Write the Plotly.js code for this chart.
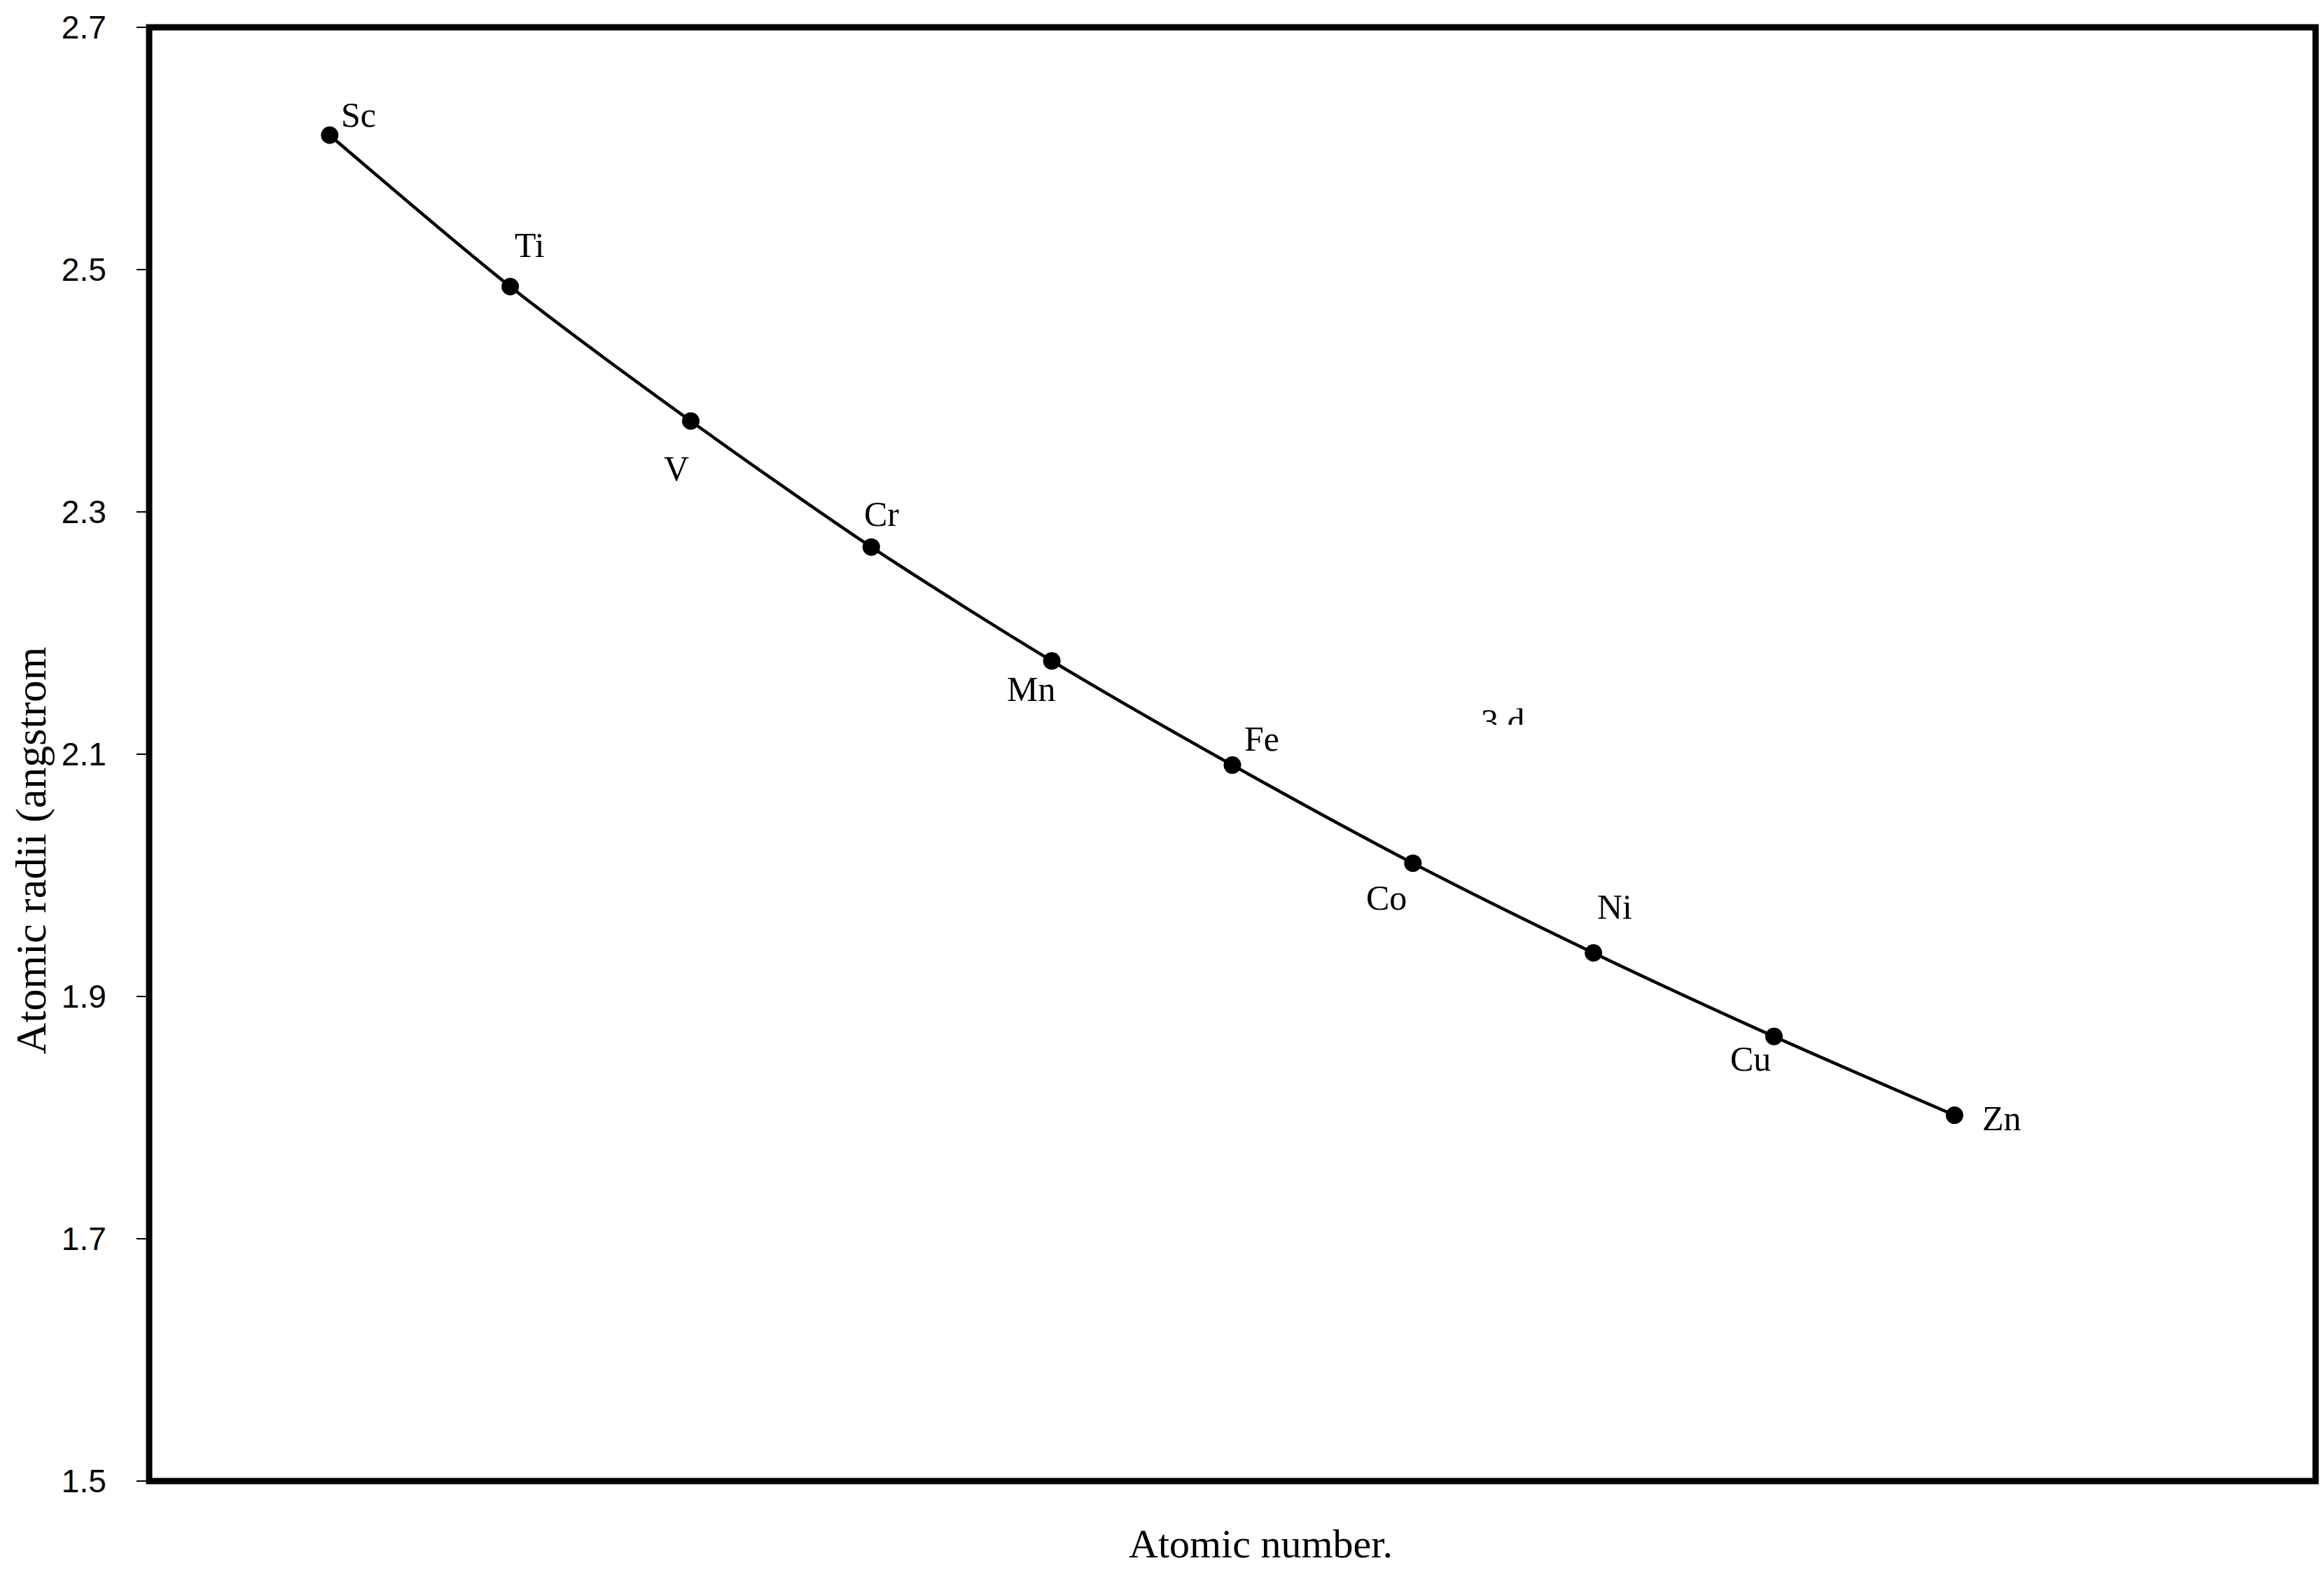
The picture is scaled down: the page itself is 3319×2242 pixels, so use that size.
<!DOCTYPE html>
<html lang="en">
<head>
    <meta charset="UTF-8">
    <title>Atomic radii of 3d elements</title>
    <script src="https://cdn.plot.ly/plotly-3.0.1.min.js"></script>
    <style>
        html, body { margin: 0; padding: 0; background: #ffffff; }
        #plot { width: 3319px; height: 2242px; }
    </style>
</head>
<body>
    <div id="plot"></div>
    <script>
        // 3d series
        const elements = ['Sc', 'Ti', 'V', 'Cr', 'Mn', 'Fe', 'Co', 'Ni', 'Cu', 'Zn'];
        const atomicNumber = [21, 22, 23, 24, 25, 26, 27, 28, 29, 30];
        const radii = [2.611, 2.486, 2.375, 2.271, 2.177, 2.091, 2.010, 1.936, 1.867, 1.802];
        const yTicks = [1.5, 1.7, 1.9, 2.1, 2.3, 2.5, 2.7];

        // where each label sits relative to its point (pixels)
        const labelDx = [41, 28, -21, 15, -30, 42, -38, 30, -34, 68];
        const labelDy = [29, 59, -68, 47, -40, 38, -49, 66, -32, -4];

        const serif = 'Liberation Serif, Times New Roman, serif';
        const sans = 'Liberation Sans, Arial, sans-serif';

        const trace = {
            x: atomicNumber,
            y: radii,
            type: 'scatter',
            mode: 'lines+markers',
            line: { color: '#000000', width: 4.5, shape: 'spline', smoothing: 0.8 },
            marker: { color: '#000000', size: 25 },
            hoverinfo: 'skip'
        };

        const labels = elements.map((el, i) => ({
            x: atomicNumber[i],
            y: radii[i],
            xref: 'x',
            yref: 'y',
            text: el,
            showarrow: false,
            xshift: labelDx[i],
            yshift: labelDy[i],
            font: { family: serif, size: 50, color: '#000000' }
        }));

        const annotations = labels.concat([
            {
                xref: 'paper', yref: 'paper',
                x: 0.513, y: -0.043,
                xanchor: 'center', yanchor: 'middle',
                text: 'Atomic number.',
                showarrow: false,
                font: { family: serif, size: 58, color: '#000000' }
            },
            {
                xref: 'paper', yref: 'paper',
                x: -0.0545, y: 0.434,
                xanchor: 'center', yanchor: 'middle',
                text: 'Atomic radii (angstrom',
                textangle: -90,
                showarrow: false,
                font: { family: serif, size: 62, color: '#000000' }
            },
            {
                // label cut off in the original
                xref: 'paper', yref: 'paper',
                x: 0.614, y: 0.537,
                xanchor: 'left', yanchor: 'top',
                text: '3 d',
                height: 33,
                valign: 'top',
                showarrow: false,
                font: { family: serif, size: 50, color: '#000000' }
            }
        ]);

        const layout = {
            width: 3319,
            height: 2242,
            margin: { l: 213, r: 12, t: 39, b: 127 },
            paper_bgcolor: '#ffffff',
            plot_bgcolor: '#ffffff',
            showlegend: false,
            xaxis: {
                range: [20, 32],
                showgrid: false,
                zeroline: false,
                showticklabels: false,
                ticks: '',
                showline: false
            },
            yaxis: {
                range: [1.5, 2.7],
                tickvals: yTicks,
                ticktext: yTicks.map(v => v.toFixed(1)),
                showgrid: false,
                zeroline: false,
                ticks: 'outside',
                ticklen: 17,
                tickwidth: 2,
                tickcolor: '#000000',
                ticklabelstandoff: 34,
                tickfont: { family: sans, size: 46, color: '#000000' },
                showline: false
            },
            shapes: [{
                // heavy frame, centred on the plot edges
                type: 'rect',
                xref: 'paper', yref: 'paper',
                x0: 0, x1: 1, y0: 0, y1: 1,
                line: { color: '#000000', width: 9 },
                fillcolor: 'rgba(0,0,0,0)',
                layer: 'above'
            }],
            annotations: annotations
        };

        Plotly.newPlot('plot', [trace], layout, { staticPlot: true });
    </script>
</body>
</html>
